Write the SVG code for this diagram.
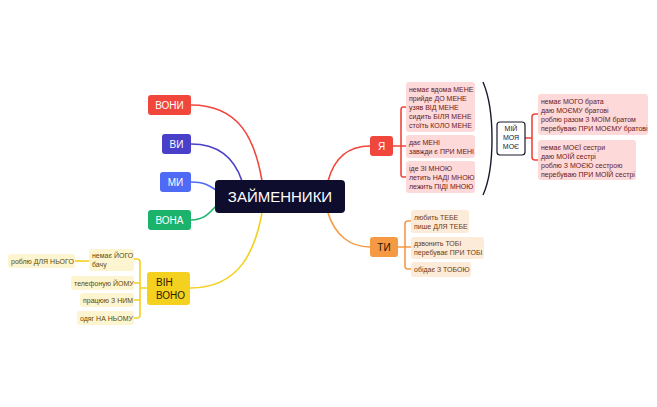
<svg xmlns="http://www.w3.org/2000/svg" width="657" height="407" viewBox="0 0 657 407">
<style>
text{font-family:"Liberation Sans",Arial,sans-serif}
.c{fill:none;stroke-width:1.6}
.s{font-size:7px}
.p{fill:#fdd9d9}.pt{fill:#6a1818}
.o{fill:#fdebd9}.ot{fill:#6a3a12}
.y{fill:#fdf5d0}.yt{fill:#5d4a08}
.w{fill:#fff;font-size:10px}
</style>
<rect width="657" height="407" fill="#fff"/>
<g id="connectors">
<path class="c" stroke="#f0463c" d="M191,105 C240,105 255,140 262,181"/>
<path class="c" stroke="#4a3fc9" d="M191,144 C220,144 235,160 242,181"/>
<path class="c" stroke="#4f6af5" d="M191,182 C205,182 210,186 216,190"/>
<path class="c" stroke="#1bb36b" d="M191,220 C205,220 210,212 216,206"/>
<path class="c" stroke="#f4d01f" d="M190,288 C240,288 255,250 262,213"/>
<path class="c" stroke="#f0463c" d="M328,181 C335,155 350,146 370,146"/>
<path class="c" stroke="#f59a43" d="M328,213 C335,235 350,247 370,247"/>
<path class="c" stroke="#f0463c" d="M393,146 H401 M406,107 H403 Q401,107 401,110 V174 Q401,177 403,177 H406 M401,146 H406"/>
<path class="c" stroke="#f59a43" d="M398,247 H405 M411,221 H408 Q405,221 405,224 V266 Q405,269 408,269 H411 M405,247 H411"/>
<path class="c" stroke="#f4d01f" d="M147,288 H140 M134,259 H137 Q140,259 140,262 V315 Q140,318 137,318 H134 M134,283 H140 M134,300 H140"/>
<path class="c" stroke="#f4d01f" d="M89,261 H75"/>
<path fill="none" stroke="#1a1a2e" stroke-width="1.4" d="M483,82 C495,110 495,168 483,195"/>
<path class="c" stroke="#f0463c" d="M525,138 H532 M538,114 H535 Q532,114 532,117 V157 Q532,160 535,160 H538"/>
</g>
<g id="center"><rect x="215" y="180" width="130" height="33" rx="4" fill="#0f0d2e"/><text x="280" y="202" text-anchor="middle" fill="#fff" font-size="15">ЗАЙМЕННИКИ</text></g>
<g id="voni"><rect x="148" y="95" width="43" height="20" rx="3" fill="#f0463c"/><text class="w" x="169.5" y="109" text-anchor="middle">ВОНИ</text></g>
<g id="vy"><rect x="162" y="134" width="29" height="20" rx="3" fill="#4a3fc9"/><text class="w" x="176.5" y="148" text-anchor="middle">ВИ</text></g>
<g id="my"><rect x="160" y="172" width="31" height="20" rx="3" fill="#4f6af5"/><text class="w" x="175.5" y="186" text-anchor="middle">МИ</text></g>
<g id="vona"><rect x="148" y="210" width="43" height="20" rx="3" fill="#1bb36b"/><text class="w" x="169.5" y="224" text-anchor="middle">ВОНА</text></g>
<g id="vin"><rect x="147" y="272" width="43" height="33" rx="3" fill="#f4d01f"/><text x="156" y="286" font-size="10" fill="#2a2000">ВІН</text><text x="156" y="299" font-size="10" fill="#2a2000">ВОНО</text></g>
<g id="ya"><rect x="370" y="136" width="23" height="20" rx="3" fill="#f0463c"/><text class="w" x="381.5" y="150" text-anchor="middle">Я</text></g>
<g id="ty"><rect x="370" y="237" width="28" height="20" rx="3" fill="#f59a43"/><text x="384" y="251" text-anchor="middle" font-size="10" fill="#2a1500">ТИ</text></g>
<g id="ya1"><rect class="p" x="406" y="82" width="69" height="50" rx="3"/><text class="s pt" x="409" y="92">немає вдома МЕНЕ</text><text class="s pt" x="409" y="101">прийде ДО МЕНЕ</text><text class="s pt" x="409" y="110">узяв ВІД МЕНЕ</text><text class="s pt" x="409" y="119">сидить БІЛЯ МЕНЕ</text><text class="s pt" x="409" y="128">стоїть КОЛО МЕНЕ</text></g>
<g id="ya2"><rect class="p" x="406" y="135" width="69" height="23" rx="3"/><text class="s pt" x="409" y="145">дає МЕНІ</text><text class="s pt" x="409" y="154">завжди є ПРИ МЕНІ</text></g>
<g id="ya3"><rect class="p" x="406" y="161" width="69" height="32" rx="3"/><text class="s pt" x="409" y="171">іде ЗІ МНОЮ</text><text class="s pt" x="409" y="180">летить НАДІ МНОЮ</text><text class="s pt" x="409" y="189">лежить ПІДІ МНОЮ</text></g>
<g id="miy"><rect x="497" y="122" width="28" height="33" rx="3" fill="#fff" stroke="#1a1a2e" stroke-width="1.2"/><text class="s" x="511" y="131" text-anchor="middle" fill="#1a1a2e">МІЙ</text><text class="s" x="511" y="140" text-anchor="middle" fill="#1a1a2e">МОЯ</text><text class="s" x="511" y="149" text-anchor="middle" fill="#1a1a2e">МОЄ</text></g>
<g id="miy1"><rect class="p" x="538" y="94" width="110" height="41" rx="3"/><text class="s pt" x="541" y="104">немає МОГО брата</text><text class="s pt" x="541" y="113">даю МОЄМУ братові</text><text class="s pt" x="541" y="122">роблю разом З МОЇМ братом</text><text class="s pt" x="541" y="131">перебуваю ПРИ МОЄМУ братові</text></g>
<g id="miy2"><rect class="p" x="538" y="140" width="98" height="40" rx="3"/><text class="s pt" x="541" y="150">немає МОЄЇ сестри</text><text class="s pt" x="541" y="159">даю МОЇЙ сестрі</text><text class="s pt" x="541" y="168">роблю З МОЄЮ сестрою</text><text class="s pt" x="541" y="177">перебуваю ПРИ МОЇЙ сестрі</text></g>
<g id="ty1"><rect class="o" x="411" y="210" width="58" height="23" rx="3"/><text class="s ot" x="414" y="220">любить ТЕБЕ</text><text class="s ot" x="414" y="229">пише ДЛЯ ТЕБЕ</text></g>
<g id="ty2"><rect class="o" x="411" y="237" width="73" height="22" rx="3"/><text class="s ot" x="414" y="246">дзвонить ТОБІ</text><text class="s ot" x="414" y="255">перебуває ПРИ ТОБІ</text></g>
<g id="ty3"><rect class="o" x="411" y="262" width="60" height="15" rx="3"/><text class="s ot" x="414" y="272">обідає З ТОБОЮ</text></g>
<g id="vin1"><rect class="y" x="89" y="249" width="45" height="22" rx="3"/><text class="s yt" x="92" y="258">немає ЙОГО</text><text class="s yt" x="92" y="267">бачу</text></g>
<g id="vin1a"><rect class="y" x="8" y="254" width="67" height="14" rx="3"/><text class="s yt" x="11" y="264">роблю ДЛЯ НЬОГО</text></g>
<g id="vin2"><rect class="y" x="71" y="276" width="63" height="14" rx="3"/><text class="s yt" x="74" y="286">телефоную ЙОМУ</text></g>
<g id="vin3"><rect class="y" x="80" y="293" width="54" height="14" rx="3"/><text class="s yt" x="83" y="303">працюю З НИМ</text></g>
<g id="vin4"><rect class="y" x="77" y="311" width="57" height="14" rx="3"/><text class="s yt" x="80" y="321">одяг НА НЬОМУ</text></g>
</svg>
